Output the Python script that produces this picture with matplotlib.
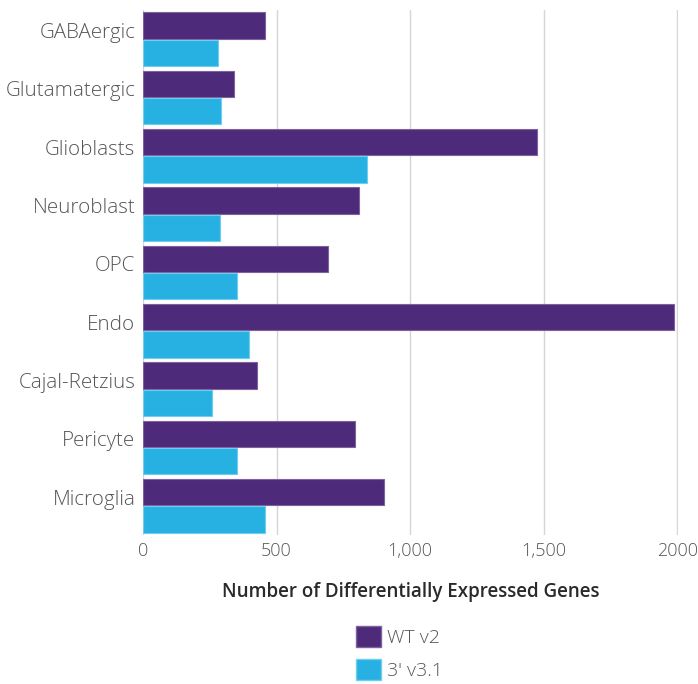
import matplotlib
matplotlib.use("Agg")
import matplotlib.pyplot as plt
from matplotlib import font_manager
import numpy as np
from matplotlib.patches import Patch

categories = ["GABAergic", "Glutamatergic", "Glioblasts", "Neuroblast", "OPC",
              "Endo", "Cajal-Retzius", "Pericyte", "Microglia"]
wt_v2 = [457, 341, 1476, 809, 693, 1989, 427, 794, 903]
v31 = [281, 292, 839, 288, 352, 397, 258, 352, 457]
xticks = [0, 500, 1000, 1500, 2000]
xticklabels = ["0", "500", "1,000", "1,500", "2000"]

purple = "#4E2A7A"
cyan = "#27B1E3"

# pick a light-weight font if available
cands = ["Noto Sans", "Open Sans", "Lato", "Inter", "Roboto", "DejaVu Sans"]
light_fam, bold_fam = None, None
for c in cands:
    for f in font_manager.fontManager.ttflist:
        if f.name == c:
            w = f.weight if isinstance(f.weight, int) else font_manager.weight_dict.get(f.weight, 400)
            if light_fam is None and w <= 300 and f.style == "normal":
                light_fam = c
            if bold_fam is None and w >= 600 and f.style == "normal":
                bold_fam = c
light = light_fam is not None
if light_fam is None:
    light_fam = "Noto Sans"
if bold_fam is None:
    bold_fam = "DejaVu Sans"

plt.rcParams['font.family'] = [light_fam, 'DejaVu Sans']
lw = "light" if light else "normal"
txt = "#555555"

fig = plt.figure(figsize=(6.98, 6.84), dpi=100)
ax = fig.add_axes([143/698, 1-535/684, 535/698, 525/684])

n = len(categories)
y = np.arange(n)
h = 0.45
ax.barh(y - h/2 - 0.01, wt_v2, height=h, color=purple, edgecolor="#7E62A0", linewidth=0.8, zorder=3)
ax.barh(y + h/2 + 0.01, v31, height=h, color=cyan, edgecolor="#6FCDEF", linewidth=0.8, zorder=3)

ax.set_ylim(n - 0.5, -0.5)
ax.set_xlim(0, 2003)
ax.set_yticks(y - 0.15)
ax.set_yticklabels(categories, fontsize=14.8, color=txt, fontweight=lw)
ax.set_xticks(xticks)
ax.set_xticklabels(xticklabels, fontsize=13, color=txt, fontweight=lw)
ax.tick_params(axis="both", length=0)
ax.tick_params(axis="x", pad=5)
ax.tick_params(axis="y", pad=5.5)
ax.grid(axis="x", color="#D5D5D5", linewidth=1, zorder=0)
for s in ax.spines.values():
    s.set_visible(False)

ax.set_xlabel("Number of Differentially Expressed Genes", fontsize=13.5,
              fontweight="semibold", color="#2A2A2A", labelpad=16, family=[bold_fam, "DejaVu Sans"])

handles = [Patch(facecolor=purple, edgecolor="#7E62A0", label="WT v2"),
           Patch(facecolor=cyan, edgecolor="#6FCDEF", label="3\u2032 v3.1")]
leg = fig.legend(handles=handles, loc="upper left", bbox_to_anchor=(348/698, 1-618/684),
                 frameon=False, fontsize=14, handlelength=1.3, handleheight=1.3,
                 handletextpad=0.3, labelspacing=0.6, borderaxespad=0)
for t in leg.get_texts():
    t.set_color(txt)
    t.set_fontweight(lw)

fig.savefig("out.png", dpi=100)
